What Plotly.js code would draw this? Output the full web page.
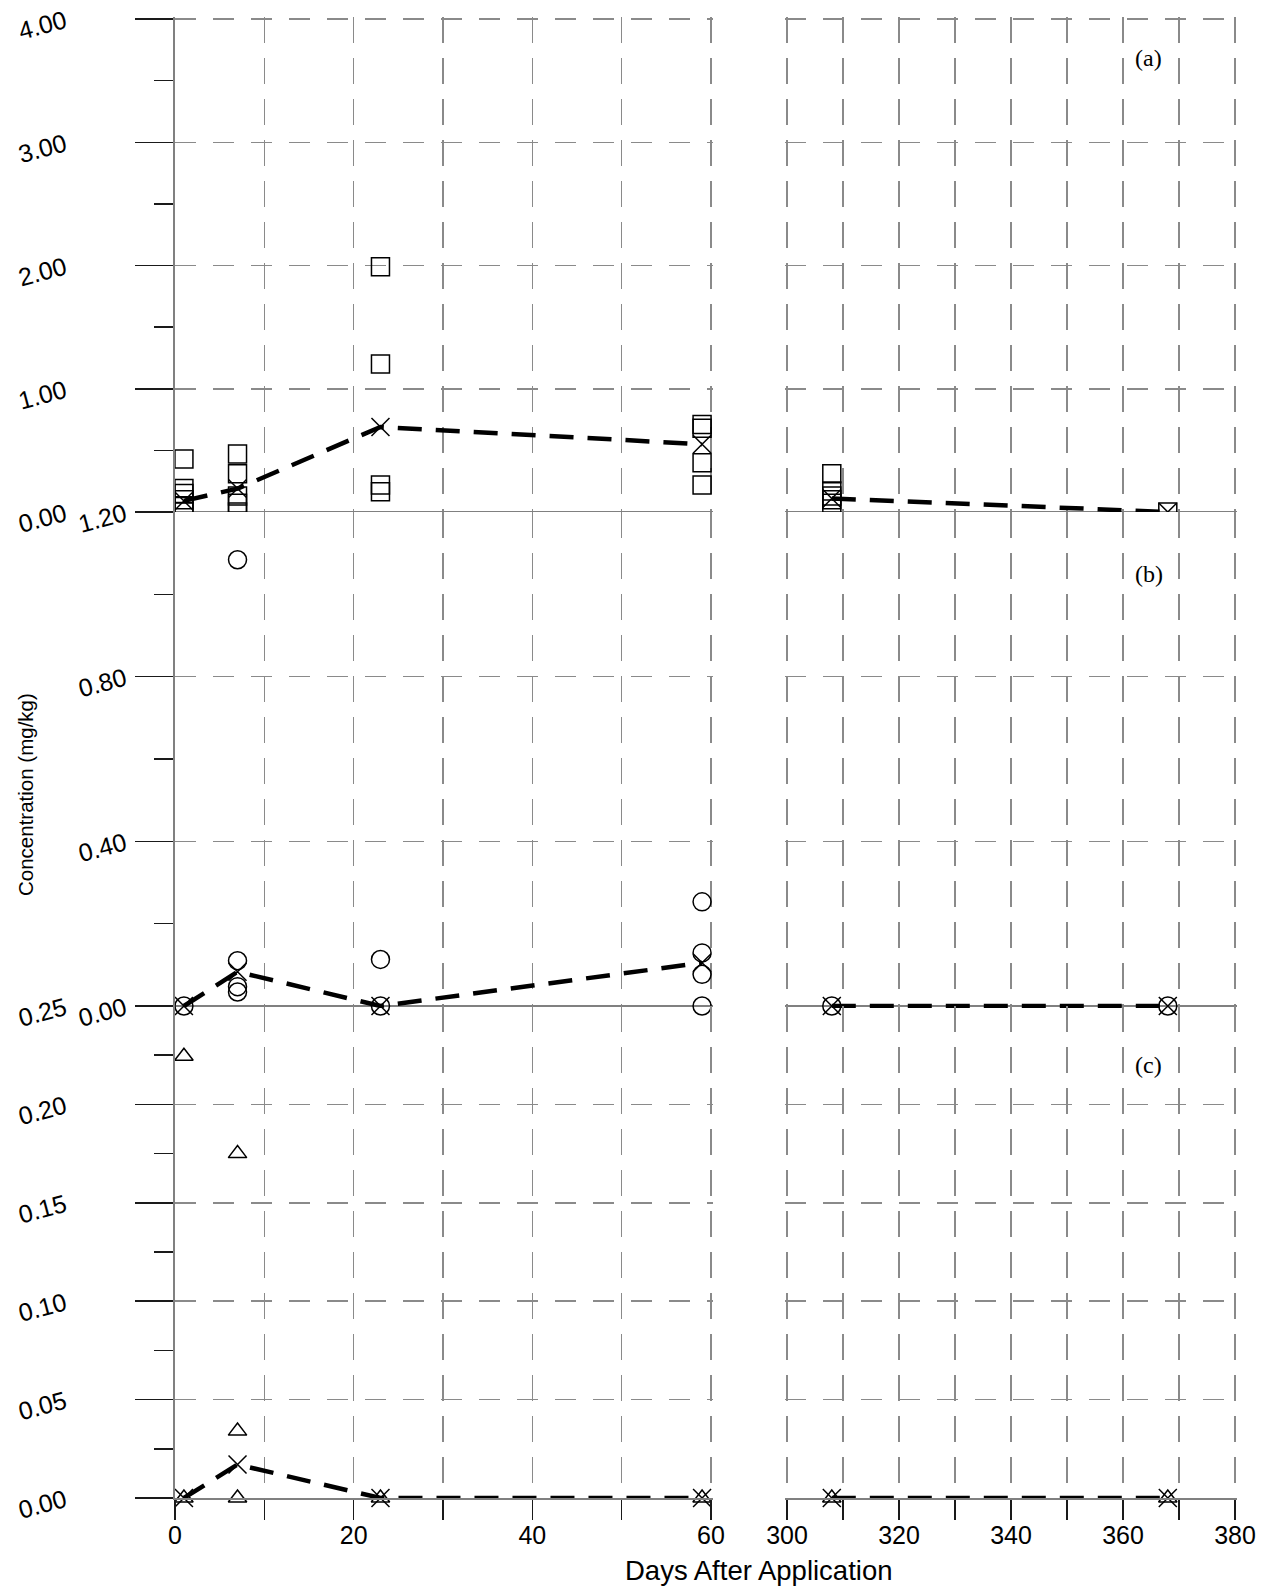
<!DOCTYPE html>
<html><head><meta charset="utf-8">
<script src="https://cdn.plot.ly/plotly-3.0.1.min.js"></script>
<style>html,body{margin:0;padding:0;background:#fff}</style>
</head><body><div id="chart" style="width:1270px;height:1587px"></div>
<script>
// ---------------- data ----------------
const squareDays = [1,1,1,1,1,1, 7,7,7,7,7, 23,23,23,23, 59,59,59,59, 308,308,308,308,308, 368];
const squareVals = [0.43,0.19,0.15,0.10,0.05,0.00, 0.47,0.31,0.13,0.07,0.00, 1.99,1.20,0.22,0.165, 0.71,0.68,0.40,0.22, 0.31,0.17,0.13,0.10,0.07, 0.00];
const circleDays = [1, 7,7,7,7, 23,23, 59,59,59,59, 308, 368];
const circleVals = [0.00, 1.084,0.110,0.047,0.034, 0.113,0.00, 0.253,0.129,0.077,0.00, 0.00, 0.00];
const triangleDays = [1,1, 7,7,7, 23, 59, 308, 368];
const triangleVals = [0.2245,0.00, 0.175,0.034,0.00, 0.00, 0.00, 0.00, 0.00];
const meanDays = [1,7,23,59,308,368];
const meanA = [0.09,0.19,0.69,0.55,0.11,0.00];
const meanB = [0.00,0.083,0.00,0.105,0.00,0.00];
const meanC = [0.00,0.017,0.00,0.00,0.00,0.00];
const panelLabels = ['(a)','(b)','(c)'];
const panelLabelY = [3.68, 1.05, 0.22];
const panelLabelX = 364.6;
const xTitle = 'Days After Application';
const yTitle = 'Concentration (mg/kg)';

// ---------------- geometry (pixels) ----------------
const L = 175, R = 1237, T = 17, B = 1498;
const PW = R - L, PH = B - T;
const aTop = 19, aZero = 512, bZero = 1006, cZero = 1498;
const leftEnd = 711, rightStart = 787, rightEnd = 1235;
const ka = (aZero - aTop) / 4, kb = (bZero - aZero) / 1.2, kc = (cZero - bZero) / 0.25;
const kx = (leftEnd - L) / 60, kx2 = (rightEnd - rightStart) / 80;

const FONT = 'Liberation Sans, Arial, sans-serif';
const GRID = '#8a8a8a', AXIS = '#808080', TICK = '#1a1a1a';

function split(days, vals) {
  const l = {x: [], y: []}, r = {x: [], y: []};
  days.forEach((d, i) => { const t = d < 200 ? l : r; t.x.push(d); t.y.push(vals[i]); });
  return [l, r];
}

const traces = [];
function addPanel(days, vals, symbol, size, means, yax) {
  const [l, r] = split(days, vals);
  const [ml, mr] = split(meanDays, means);
  [[l, ml, 'x'], [r, mr, 'x2']].forEach(([pts, mn, xa]) => {
    traces.push({type: 'scatter', mode: 'lines+markers', x: mn.x, y: mn.y, xaxis: xa, yaxis: yax,
      cliponaxis: false, hoverinfo: 'skip',
      line: {color: '#000', width: 4.5, dash: '24px,14px'},
      marker: {symbol: 'x-thin-open', size: 18, color: '#000', line: {color: '#000', width: 1.5}}});
    traces.push({type: 'scatter', mode: 'markers', x: pts.x, y: pts.y, xaxis: xa, yaxis: yax,
      cliponaxis: false, hoverinfo: 'skip',
      marker: {symbol: symbol, size: size, color: '#000', line: {color: '#000', width: 1.5}}});
  });
}
addPanel(squareDays, squareVals, 'square-open', 18, meanA, 'y');
addPanel(circleDays, circleVals, 'circle-open', 18, meanB, 'y2');
addPanel(triangleDays, triangleVals, 'triangle-up-open', 16, meanC, 'y3');

const yCommon = {
  anchor: 'x', showline: true, linecolor: AXIS, linewidth: 2,
  ticks: 'outside', ticklen: 38, tickwidth: 1.5, tickcolor: TICK,
  showgrid: true, gridcolor: GRID, gridwidth: 1.5, griddash: '21px,17px',
  zeroline: true, zerolinecolor: AXIS, zerolinewidth: 1.5,
  tickformat: '.2f', tickangle: -15,
  tickfont: {family: FONT, size: 25, color: '#000'}, fixedrange: true
};
const minorY = (d) => ({dtick: d, ticks: 'outside', ticklen: 19, tickwidth: 1.5, tickcolor: TICK, showgrid: false});
const xCommon = {
  anchor: 'y3', dtick: 20, ticks: 'outside', ticklen: 20, tickwidth: 1.5, tickcolor: TICK,
  showline: true, linecolor: AXIS, linewidth: 1.5, zeroline: false,
  showgrid: true, gridcolor: GRID, gridwidth: 1.5, griddash: '26px,15px',
  minor: {dtick: 10, ticks: 'outside', ticklen: 20, tickwidth: 1.5, tickcolor: TICK,
          showgrid: true, gridcolor: GRID, gridwidth: 1.5, griddash: '26px,15px'},
  ticklabelstandoff: -6,
  tickfont: {family: FONT, size: 25, color: '#000'}, fixedrange: true
};

const layout = {
  width: 1270, height: 1587, showlegend: false,
  paper_bgcolor: '#fff', plot_bgcolor: '#fff',
  margin: {l: L, r: 1270 - R, t: T, b: 1587 - B, pad: 0},
  xaxis: Object.assign({}, xCommon, {domain: [0, (leftEnd + 2 - L) / PW], range: [0, 60 + 2 / kx], tick0: 0}),
  xaxis2: Object.assign({}, xCommon, {domain: [(rightStart - 2 - L) / PW, 1], range: [300 - 2 / kx2, 380 + 2 / kx2], tick0: 300}),
  yaxis: Object.assign({}, yCommon, {domain: [(B - aZero - 2) / PH, 1], range: [-2 / ka, 4 + (aTop - T) / ka],
    dtick: 1, tick0: 0, minor: minorY(0.5), ticklabelstandoff: 65}),
  yaxis2: Object.assign({}, yCommon, {domain: [(B - bZero - 2) / PH, (B - aZero) / PH], range: [-2 / kb, 1.2],
    dtick: 0.4, tick0: 0, minor: minorY(0.2), ticklabelstandoff: 5}),
  yaxis3: Object.assign({}, yCommon, {domain: [0, (B - bZero) / PH], range: [0, 0.25],
    dtick: 0.05, tick0: 0, minor: minorY(0.025), ticklabelstandoff: 65}),
  annotations: [
    ...panelLabels.map((t, i) => ({text: t, x: panelLabelX, y: panelLabelY[i], xref: 'x2', yref: ['y', 'y2', 'y3'][i],
      showarrow: false, xanchor: 'center', yanchor: 'middle', font: {family: 'Liberation Serif, Times New Roman, serif', size: 24, color: '#000'}})),
    {text: xTitle, xref: 'paper', yref: 'paper', x: (759 - L) / PW, y: (B - 1570) / PH, showarrow: false,
      xanchor: 'center', yanchor: 'middle', font: {family: FONT, size: 27.5, color: '#000'}},
    {text: yTitle, xref: 'paper', yref: 'paper', x: (25 - L) / PW, y: (B - 795) / PH, showarrow: false, textangle: -90,
      xanchor: 'center', yanchor: 'middle', font: {family: FONT, size: 20.5, color: '#000'}}
  ]
};

Plotly.newPlot('chart', traces, layout, {staticPlot: true, displayModeBar: false});
</script></body></html>
